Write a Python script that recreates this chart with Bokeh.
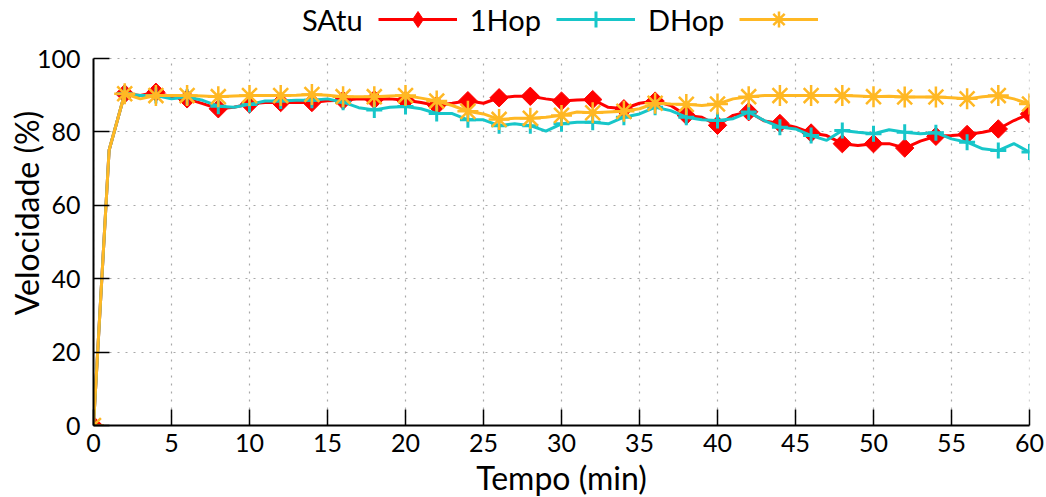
import math
from bokeh.plotting import figure
from bokeh.models import Range1d, FixedTicker, Legend, LegendItem
from bokeh.embed import file_html
from bokeh.resources import INLINE

# ---------------- data ----------------
tempo = list(range(61))
satu = [0, 75, 90.4, 89.9, 90.8, 89.5, 89.0, 87.7, 86.3, 86.7, 87.6, 88.0, 88.0, 88.0, 88.0, 88.5,
        88.6, 89.0, 88.8, 89.0, 88.6, 88.0, 87.2, 87.8, 88.5, 87.8, 89.3, 89.7, 89.7, 89.0, 88.4,
        88.7, 88.8, 86.7, 86.3, 87.8, 88.4, 87.2, 84.5, 84.0, 81.8, 84.5, 85.5, 83.0, 82.3, 81.3,
        79.7, 79.0, 76.8, 76.3, 76.8, 76.8, 75.6, 77.5, 78.8, 79.0, 79.3, 79.9, 80.8, 83.1, 84.9]
hop1 = [0, 75, 90.4, 89.9, 89.9, 89.0, 89.5, 88.6, 87.0, 86.7, 87.5, 88.4, 88.4, 88.6, 88.6, 89.0,
        88.1, 86.6, 86.0, 86.7, 86.9, 86.3, 85.0, 85.0, 83.3, 83.3, 81.7, 82.2, 81.7, 80.2, 82.2,
        82.6, 82.6, 82.2, 84.0, 84.9, 86.7, 85.8, 84.0, 83.3, 83.1, 83.6, 85.4, 83.1, 81.3, 80.8,
        79.0, 77.7, 80.4, 79.9, 79.5, 80.6, 79.9, 79.5, 79.8, 78.1, 77.2, 75.4, 74.9, 76.8, 74.5]
dhop = [0, 75, 90.4, 89.0, 89.9, 89.9, 89.9, 89.8, 89.6, 89.8, 89.9, 89.9, 89.9, 90.0, 90.2, 90.0,
        89.6, 89.6, 89.6, 89.8, 89.9, 89.2, 88.4, 87.2, 85.6, 84.9, 83.4, 83.7, 83.7, 84.0, 84.5,
        85.4, 85.2, 85.4, 85.6, 86.3, 87.8, 87.6, 87.5, 87.2, 87.6, 89.0, 89.6, 89.9, 89.9, 89.9,
        89.9, 89.9, 89.9, 89.8, 89.6, 89.7, 89.5, 89.5, 89.5, 89.3, 89.0, 89.6, 89.9, 89.0, 87.6]
# legend texts, in the order they appear (each text sits before the next sample line)
legend_texts = ["SAtu", "1Hop", "DHop", ""]
x_ticks = list(range(0, 61, 5))
y_ticks = list(range(0, 101, 20))
x_label = "Tempo (min)"
y_label = "Velocidade (%)"

# ---------------- style / layout ----------------
FONT = "Lato"
RED = "#ff0000"
CYAN = "#17c6c9"
ORANGE = "#ffb824"
colors = [RED, CYAN, ORANGE]
LW = 3
PLOT_H = 367          # height of the 0..100 data area in px
KEY_H = 58            # room above it for the key
KEY_GLYPH_H = 40
Y_MAX = y_ticks[-1]
Y_TOP = Y_MAX * (PLOT_H + KEY_H) / PLOT_H

def marker_kwargs(i):
    if i == 0:
        return dict(marker="square", size=13, angle=math.pi / 4, fill_color=RED, line_color=RED, line_width=1)
    if i == 1:
        return dict(marker="cross", size=16, line_color=CYAN, line_width=3)
    return dict(marker="asterisk", size=21, line_color=ORANGE, line_width=2.5)

# ---------------- main figure ----------------
p = figure(frame_width=936, frame_height=PLOT_H + KEY_H,
           x_range=Range1d(0, 60), y_range=Range1d(0, Y_TOP),
           output_backend="svg", toolbar_location=None,
           min_border_left=93, min_border_right=17, min_border_top=0, min_border_bottom=72)
p.outline_line_color = None
p.background_fill_color = "white"
p.border_fill_color = "white"

p.xaxis.ticker = FixedTicker(ticks=x_ticks)
p.yaxis.ticker = FixedTicker(ticks=y_ticks)
p.yaxis.bounds = (0, Y_MAX)
p.ygrid.ticker = FixedTicker(ticks=y_ticks)
p.ygrid.grid_line_color = "#a8a8a8"
p.ygrid.grid_line_dash = "2 6"
p.ygrid.grid_line_width = 1.2
p.xgrid.visible = False
# vertical grid lines limited to the 0..100 data area
p.segment(x0=x_ticks, y0=[0] * len(x_ticks), x1=x_ticks, y1=[Y_MAX] * len(x_ticks),
          line_color="#a8a8a8", line_dash="2 6", line_width=1.2)

for ax in (p.xaxis[0], p.yaxis[0]):
    ax.major_tick_in = 16
    ax.major_tick_out = 0
    ax.minor_tick_in = 0
    ax.minor_tick_out = 0
    ax.axis_line_width = 2
    ax.axis_line_color = "black"
    ax.major_tick_line_width = 1.5
    ax.major_tick_line_color = "black"
    ax.major_label_text_font = FONT
    ax.major_label_text_font_size = "25px"
    ax.major_label_text_color = "black"
    ax.axis_label_text_font = FONT
    ax.axis_label_text_font_size = "32px"
    ax.axis_label_text_font_style = "normal"
    ax.axis_label_text_color = "black"

p.xaxis.axis_label = x_label
p.yaxis.axis_label = y_label
p.xaxis.major_label_standoff = 8
p.xaxis.axis_label_standoff = 3
p.yaxis.major_label_standoff = 13
p.yaxis.axis_label_standoff = -12

# tiny diamond on the first SAtu point (hidden under the other markers) so the key
# can show a diamond symbol (the key draws markers unrotated)
key_diamond = p.scatter(x=tempo[:1], y=satu[:1], marker="diamond", size=1,
                        fill_color=RED, line_color=RED)

series_renderers = []
for i, ys in enumerate([satu, hop1, dhop]):
    rl = p.line(tempo, ys, line_color=colors[i], line_width=LW)
    rm = p.scatter(tempo[::2], ys[::2], **marker_kwargs(i))
    series_renderers.append([rl, rm])

key_renderers = [[series_renderers[0][0], key_diamond], series_renderers[1], series_renderers[2]]

# gnuplot-style key: text first, then the sample of the series it names
items = [LegendItem(label=legend_texts[0], renderers=[])]
for i in range(3):
    items.append(LegendItem(label=legend_texts[i + 1], renderers=key_renderers[i]))

legend = Legend(items=items, orientation="horizontal",
                location=(117, PLOT_H + KEY_H - 19 - KEY_GLYPH_H // 2),
                glyph_width=79, glyph_height=KEY_GLYPH_H, label_standoff=13, spacing=15,
                padding=0, margin=0, border_line_color=None, background_fill_alpha=0,
                label_text_font=FONT, label_text_font_size="29px", label_text_color="black",
                label_text_baseline="middle")
p.add_layout(legend, "center")

open("out.html", "w").write(file_html(p, INLINE))
